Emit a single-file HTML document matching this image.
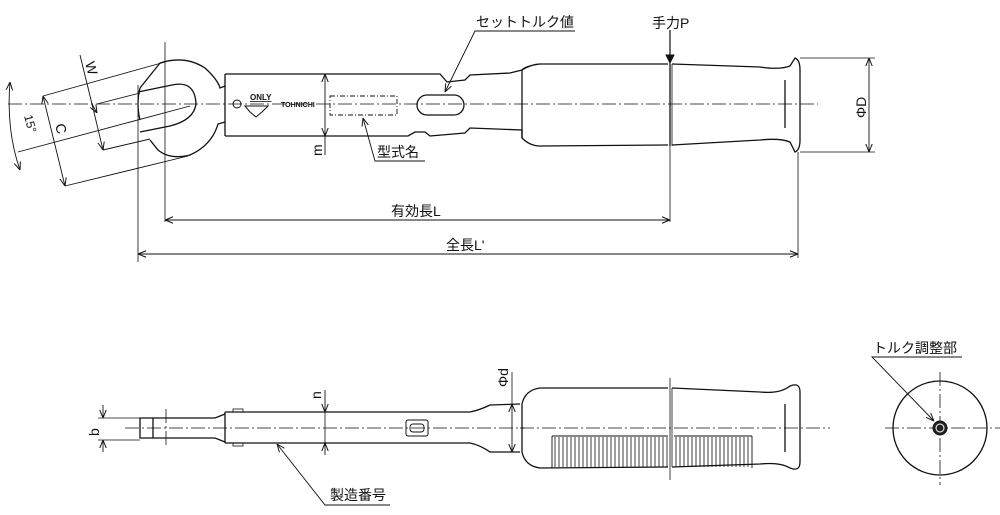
<!DOCTYPE html>
<html><head><meta charset="utf-8"><style>
html,body{margin:0;padding:0;background:#fff;}
svg{display:block}
text{font-family:"Liberation Sans","Noto Sans CJK JP",sans-serif;fill:#111;}
</style></head><body>
<svg width="1000" height="515" viewBox="0 0 1000 515" xmlns="http://www.w3.org/2000/svg">
<defs>
<marker id="a" viewBox="0 0 10 10" refX="10" refY="5" markerWidth="9" markerHeight="9" orient="auto-start-reverse"><path d="M0,1 L10,5 L0,9" fill="none" stroke="#111" stroke-width="1.2"/></marker>
<marker id="f" viewBox="0 0 10 10" refX="10" refY="5" markerWidth="8" markerHeight="10" orient="auto"><path d="M0,0 L10,5 L0,10z" fill="#111"/></marker>
</defs>
<g fill="none" stroke="#111" stroke-width="1.3">
<line x1="8" y1="104" x2="818" y2="104" stroke-width="0.8" stroke-dasharray="14,3,2,3"/>
<line x1="165" y1="42" x2="165" y2="222" stroke-width="0.8"/>
<path d="M140,88 L160,63 Q185,55 205,68 Q218,80 220,88 L225,86 M225,122 L218,124 Q212,145 190,155 Q170,160 158,150 L150,140"/>
<path d="M140,88 Q136,104 140,120"/>
<path d="M138,92 L172,85 Q195,80 196,104 Q194,120 170,126 L140,132"/>
<line x1="43" y1="96" x2="165" y2="62" stroke-width="0.9"/>
<line x1="65" y1="186" x2="188" y2="156" stroke-width="0.9"/>
<line x1="97" y1="104" x2="140" y2="93" stroke-width="0.9"/>
<line x1="103" y1="150" x2="150" y2="139" stroke-width="0.9"/>
<line x1="18" y1="152" x2="190" y2="106" stroke-width="0.9"/>
<line x1="80" y1="55" x2="92" y2="104" stroke-width="0.9"/>
<line x1="92" y1="104" x2="103" y2="150" stroke-width="0.9" marker-end="url(#a)"/>
<line x1="97" y1="113" x2="92" y2="104" stroke-width="0.9" marker-start="url(#a)"/>
<line x1="43" y1="96" x2="65" y2="186" stroke-width="0.9" marker-start="url(#a)" marker-end="url(#a)"/>
<path d="M10,82 Q6,130 20,170" stroke-width="0.9" marker-start="url(#a)" marker-end="url(#a)"/>
<path d="M225,74 L440,74 L447,82 L465,80 L470,75 L510,73 L522,70 M225,136 L408,136 L415,132 L425,132 L430,136 L465,133 L470,128 L522,130 L522,138"/>
<line x1="225" y1="74" x2="225" y2="136"/>
<rect x="417" y="95" width="47" height="20" rx="10"/>
<circle cx="237" cy="104" r="4" stroke-width="1"/>
<path d="M245,106 L268,106 L262,112 L256,117 L250,112z" stroke-width="1"/>
<rect x="330" y="96" width="67" height="19" stroke-width="0.9" stroke-dasharray="5,2,1,2"/>
<path d="M522,70 Q532,64 540,64 L668,64 M672,64 L760,67 Q780,70 790,66 L795,58 Q800,60 800,70 L800,140 Q800,150 795,152 L790,142 Q780,138 760,140 L672,145 M668,145 L540,146 Q530,146 522,138 L522,70 Q525,66 540,64"/>
<line x1="670" y1="64" x2="670" y2="146"/>
<line x1="672" y1="64" x2="672" y2="146" stroke-width="0.8"/>
<line x1="785" y1="80" x2="785" y2="128"/>
<line x1="325" y1="74" x2="325" y2="136" stroke-width="0.9" marker-start="url(#a)" marker-end="url(#a)"/>
<line x1="325" y1="136" x2="325" y2="155" stroke-width="0.9"/>
<line x1="800" y1="58" x2="875" y2="58" stroke-width="0.8"/>
<line x1="800" y1="152" x2="875" y2="152" stroke-width="0.8"/>
<line x1="869" y1="58" x2="869" y2="152" stroke-width="0.9" marker-start="url(#a)" marker-end="url(#a)"/>
<line x1="670" y1="146" x2="670" y2="222" stroke-width="0.8"/>
<line x1="138" y1="85" x2="138" y2="262" stroke-width="0.8"/>
<line x1="798" y1="152" x2="798" y2="258" stroke-width="0.8"/>
<line x1="165" y1="220" x2="670" y2="220" stroke-width="0.9" marker-start="url(#a)" marker-end="url(#a)"/>
<line x1="138" y1="254" x2="798" y2="254" stroke-width="0.9" marker-start="url(#a)" marker-end="url(#a)"/>
<line x1="670" y1="30" x2="670" y2="64" stroke-width="1.2" marker-end="url(#f)"/>
<polyline points="575,31 475,31 445,92" stroke-width="0.9" marker-end="url(#a)"/>
<polyline points="425,161 375,161 363,118" stroke-width="0.9" marker-end="url(#a)"/>
<line x1="125" y1="428" x2="525" y2="428" stroke-width="0.8" stroke-dasharray="14,3,2,3"/>
<line x1="520" y1="428" x2="830" y2="428" stroke-width="0.8" stroke-dasharray="14,3,2,3"/>
<line x1="166" y1="409" x2="166" y2="447" stroke-width="0.8" stroke-dasharray="14,3,2,3"/>
<path d="M140,418 L153,418 L153,438 L140,438z"/>
<path d="M153,418 L215,418 L225,414 M153,438 L215,438 L225,442"/>
<path d="M225,412 L470,412 Q480,410 490,405 L520,404 M225,443 L470,443 Q480,445 490,452 L520,452"/>
<line x1="225" y1="412" x2="225" y2="443"/>
<rect x="233" y="409" width="10" height="3" stroke-width="0.8"/>
<rect x="233" y="443" width="10" height="3" stroke-width="0.8"/>
<rect x="406" y="420" width="22" height="16" rx="2" stroke-width="1"/>
<rect x="410" y="424" width="14" height="8" rx="3" stroke-width="0.9"/>
<path d="M522,404 Q525,390 540,388 L668,388 M672,388 L760,392 Q780,394 790,386 Q800,382 800,392 L800,462 Q800,472 790,468 Q780,462 760,464 L672,467 M668,467 L540,468 Q525,466 522,452 L522,404"/>
<line x1="670" y1="378" x2="670" y2="480" stroke-width="0.8"/>
<line x1="672" y1="388" x2="672" y2="467" stroke-width="0.8"/>
<line x1="785" y1="404" x2="785" y2="452"/>
<path d="M552,468 L552,436 M752,468 L752,436 M552,436 L668,436 M674,436 L752,436" stroke-width="0.9"/>
<g stroke-width="0.8">
<path d="M555,467 V437 M559,467 V437 M563,467 V437 M567,467 V437 M571,467 V437 M575,467 V437 M579,467 V437 M583,467 V437 M587,467 V437 M591,467 V437 M595,467 V437 M599,467 V437 M603,467 V437 M607,467 V437 M611,467 V437 M615,467 V437 M619,467 V437 M623,467 V437 M627,467 V437 M631,467 V437 M635,467 V437 M639,467 V437 M643,467 V437 M647,467 V437 M651,467 V437 M655,467 V437 M659,467 V437 M663,467 V437 M667,467 V437 M676,467 V437 M680,467 V437 M684,467 V437 M688,467 V437 M692,467 V437 M696,467 V437 M700,467 V437 M704,467 V437 M708,467 V437 M712,467 V437 M716,467 V437 M720,467 V437 M724,467 V437 M728,467 V437 M732,467 V437 M736,467 V437 M740,467 V437 M744,467 V437 M748,467 V437"/>
</g>
<line x1="98" y1="418" x2="140" y2="418" stroke-width="0.8"/>
<line x1="98" y1="440" x2="140" y2="440" stroke-width="0.8"/>
<line x1="103" y1="405" x2="103" y2="418" stroke-width="0.9" marker-end="url(#a)"/>
<line x1="103" y1="452" x2="103" y2="440" stroke-width="0.9" marker-end="url(#a)"/>
<line x1="325" y1="390" x2="325" y2="412" stroke-width="0.9" marker-end="url(#a)"/>
<line x1="325" y1="455" x2="325" y2="443" stroke-width="0.9" marker-end="url(#a)"/>
<line x1="325" y1="412" x2="325" y2="443" stroke-width="0.8"/>
<line x1="512" y1="372" x2="512" y2="404" stroke-width="0.8"/>
<line x1="512" y1="404" x2="512" y2="452" stroke-width="0.9" marker-start="url(#a)" marker-end="url(#a)"/>
<polyline points="390,505 325,505 277,444" stroke-width="0.9" marker-end="url(#a)"/>
<circle cx="940" cy="428" r="47"/>
<line x1="885" y1="428" x2="1000" y2="428" stroke-width="0.8" stroke-dasharray="14,3,2,3"/>
<line x1="940" y1="372" x2="940" y2="485" stroke-width="0.8" stroke-dasharray="14,3,2,3"/>
<circle cx="940" cy="428" r="7" fill="#222" stroke-width="1"/>
<circle cx="940" cy="428" r="4" stroke="#fff" stroke-width="1"/>
<polyline points="962,357 872,357 934,421" stroke-width="0.9" marker-end="url(#a)"/>
</g>
<text x="476" y="27" font-size="14">セットトルク値</text>
<text x="652" y="28" font-size="14">手力P</text>
<text x="377" y="157" font-size="14">型式名</text>
<text x="391" y="216" font-size="14">有効長L</text>
<text x="446" y="250" font-size="14">全長L'</text>
<text x="250" y="100" font-size="8" font-weight="bold" text-decoration="underline">ONLY</text>
<text x="281" y="107" font-size="7" font-weight="bold">TOHNICHI</text>
<text x="0" y="0" font-size="14" transform="translate(322,156) rotate(-90)">m</text>
<text x="0" y="0" font-size="14" transform="translate(866,118) rotate(-90)">ΦD</text>
<text x="0" y="0" font-size="14" transform="translate(85,63) rotate(75)">W</text>
<text x="0" y="0" font-size="14" transform="translate(55,125) rotate(75)">C</text>
<text x="0" y="0" font-size="12" transform="translate(24,116) rotate(75)">15°</text>
<text x="0" y="0" font-size="14" transform="translate(99,436) rotate(-90)">b</text>
<text x="0" y="0" font-size="14" transform="translate(321,399) rotate(-90)">n</text>
<text x="0" y="0" font-size="14" transform="translate(508,387) rotate(-90)">Φd</text>
<text x="330" y="500" font-size="14">製造番号</text>
<text x="873" y="353" font-size="14">トルク調整部</text>
</svg>
</body></html>
